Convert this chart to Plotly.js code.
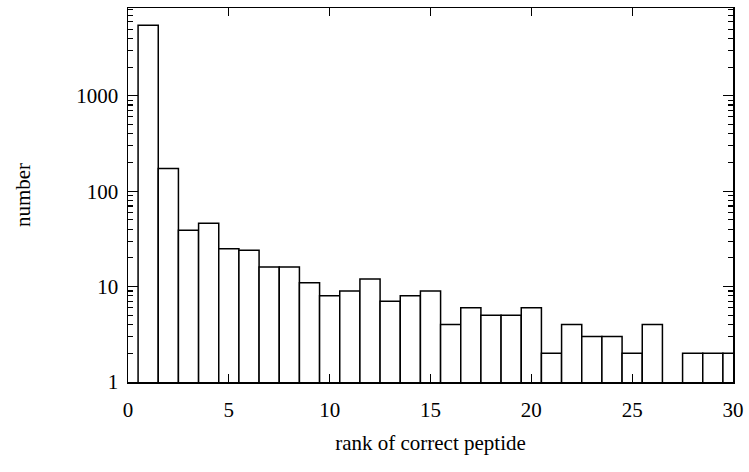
<!DOCTYPE html>
<html>
<head>
<meta charset="utf-8">
<script src="https://cdn.plot.ly/plotly-3.0.1.min.js"></script>
<style>html,body{margin:0;padding:0;background:#fff;}#chart{width:749px;height:472px;}</style>
</head>
<body>
<div id="chart"></div>
<script>
const ranks = [1,2,3,4,5,6,7,8,9,10,11,12,13,14,15,16,17,18,19,20,21,22,23,24,25,26,27,28,29,30];
const counts = [5500,173,39,46,25,24,16,16,11,8,9,12,7,8,9,4,6,5,5,6,2,4,3,3,2,4,0,2,2,2];
const yTickVals = [1,10,100,1000];
const yTickText = ['1','10','100','1000'];
const xTickVals = [0,5,10,15,20,25,30];
const yMinorVals = [2,3,4,5,6,7,8,9,20,30,40,50,60,70,80,90,200,300,400,500,600,700,800,900,2000,3000,4000,5000,6000,7000,8000];

const font = {family: 'Liberation Serif, DejaVu Serif, serif', size: 21, color: '#000'};
const yRange = [0, 3.92];

const bars = {
  type: 'bar',
  x: ranks,
  y: counts,
  width: 1,
  marker: {color: '#fff', line: {color: '#000', width: 1.5}},
  hoverinfo: 'x+y'
};

// invisible companion trace so the minor-tick axis is drawn
const minorAxisHolder = {
  type: 'scatter',
  mode: 'markers',
  x: ranks,
  y: counts,
  xaxis: 'x',
  yaxis: 'y2',
  marker: {opacity: 0, size: 1},
  hoverinfo: 'skip',
  showlegend: false
};

const layout = {
  width: 749, height: 472,
  margin: {l: 128, r: 16, t: 8, b: 90, pad: 0},
  paper_bgcolor: '#fff', plot_bgcolor: '#fff',
  showlegend: false,
  font: font,
  bargap: 0,
  xaxis: {
    range: [0, 30],
    tickmode: 'array',
    tickvals: xTickVals,
    ticks: 'inside', ticklen: 8, tickwidth: 1.3, tickcolor: '#000',
    ticklabelstandoff: 8,
    showline: true, linecolor: '#000', linewidth: 1.5, mirror: 'ticks',
    showgrid: false, zeroline: false,
    tickfont: font,
    title: {text: 'rank of correct peptide', font: font, standoff: 14}
  },
  yaxis: {
    type: 'log',
    range: yRange,
    tickmode: 'array',
    tickvals: yTickVals, ticktext: yTickText,
    ticks: 'inside', ticklen: 10, tickwidth: 1.3, tickcolor: '#000',
    ticklabelstandoff: 4,
    showline: true, linecolor: '#000', linewidth: 1.5, mirror: 'ticks',
    showgrid: false, zeroline: false,
    tickfont: font,
    title: {text: 'number', font: font, standoff: 40}
  },
  yaxis2: {
    type: 'log',
    range: yRange,
    overlaying: 'y',
    anchor: 'x',
    side: 'right',
    tickmode: 'array',
    tickvals: yMinorVals,
    showticklabels: false,
    ticks: 'inside', ticklen: 5, tickwidth: 1.1, tickcolor: '#000',
    showline: true, linecolor: '#000', linewidth: 1.5, mirror: 'ticks',
    showgrid: false, zeroline: false
  }
};

Plotly.newPlot('chart', [bars, minorAxisHolder], layout, {displayModeBar: false, staticPlot: true});
</script>
</body>
</html>
